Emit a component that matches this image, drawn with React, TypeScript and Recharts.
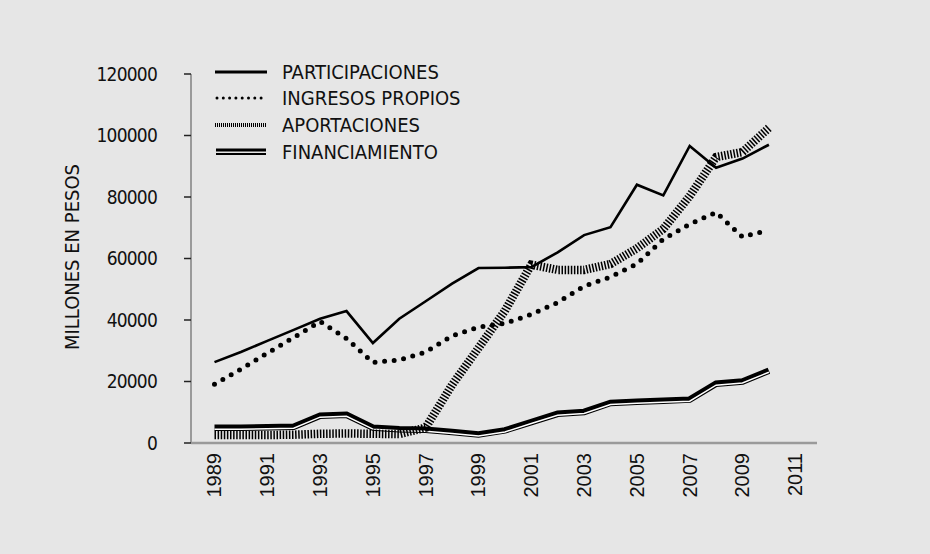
import React from "react"
import { LineChart, Line, XAxis, YAxis } from "recharts"

const years = [
  1989, 1990, 1991, 1992, 1993, 1994, 1995, 1996, 1997, 1998, 1999, 2000,
  2001, 2002, 2003, 2004, 2005, 2006, 2007, 2008, 2009, 2010,
]
const participaciones = [
  26300, 29600, 33200, 36800, 40400, 42900, 32500, 40400, 46100, 51800, 56900,
  57000, 57200, 62000, 67600, 70200, 84000, 80500, 96600, 89500, 92500, 97000,
]
const ingresosPropios = [
  19100, 24000, 29200, 34300, 39500, 34000, 26200, 27000, 29600, 34800, 37700,
  38900, 41800, 45700, 51000, 54000, 58200, 66300, 71200, 75000, 67000, 69300,
]
const aportaciones = [
  2600, 2600, 2600, 2700, 3000, 3100, 3000, 2900, 5000, 18900, 30900, 43000,
  58000, 56300, 56300, 58200, 63300, 69600, 80300, 93000, 94600, 102500,
]
const financiamiento = [
  5000, 5000, 5100, 5300, 8900, 9200, 5000, 4500, 4300, 3600, 2800, 4100, 6800,
  9500, 10100, 13000, 13400, 13700, 14100, 19300, 20000, 23500,
]
const yearTicks = [1989, 1991, 1993, 1995, 1997, 1999, 2001, 2003, 2005, 2007, 2009, 2011]
const valueTicks = [0, 20000, 40000, 60000, 80000, 100000, 120000]

const data = years.map((year, i) => ({
  year,
  participaciones: participaciones[i],
  ingresos: ingresosPropios[i],
  aportaciones: aportaciones[i],
  financiamiento: financiamiento[i],
}))

const narrow = "'Liberation Sans Narrow', 'Arial Narrow', 'DejaVu Sans Condensed', sans-serif"
const plain = "'Liberation Sans', Arial, sans-serif"

function YearTick(props: any) {
  const { x, y, payload } = props
  return (
    <text
      transform={`translate(${x + 7},${y}) rotate(-90)`}
      textAnchor="end"
      fontSize={20}
      fontFamily={plain}
      fill="#111"
    >
      {payload.value}
    </text>
  )
}

const legendItems = [
  { label: "PARTICIPACIONES", kind: "solid" },
  { label: "INGRESOS PROPIOS", kind: "dots" },
  { label: "APORTACIONES", kind: "hatch" },
  { label: "FINANCIAMIENTO", kind: "double" },
]

function Sample({ kind }: { kind: string }) {
  return (
    <svg width={52} height={12} style={{ display: "block" }}>
      {kind === "solid" && <line x1={0} y1={6} x2={52} y2={6} stroke="#000" strokeWidth={3} />}
      {kind === "dots" && (
        <line x1={2} y1={6} x2={52} y2={6} stroke="#000" strokeWidth={3}
          strokeDasharray="0 6.3" strokeLinecap="round" />
      )}
      {kind === "hatch" && (
        <line x1={0} y1={6} x2={52} y2={6} stroke="#000" strokeWidth={4} strokeDasharray="1 1" />
      )}
      {kind === "double" && (
        <g>
          <line x1={1} y1={4} x2={51} y2={4} stroke="#000" strokeWidth={3} />
          <line x1={1} y1={8} x2={51} y2={8} stroke="#000" strokeWidth={1.8} />
        </g>
      )}
    </svg>
  )
}

export default function App() {
  return (
    <div style={{ position: "relative", width: 930, height: 554, background: "#e6e6e6" }}>
      <style>{`body{margin:0}`}</style>
      <LineChart
        width={930}
        height={554}
        data={data}
        margin={{ top: 74, right: 113, left: 91, bottom: 51 }}
      >
        <XAxis
          dataKey="year"
          type="number"
          domain={[1988.11, 2011.822]}
          ticks={yearTicks}
          interval={0}
          height={60}
          tickLine={false}
          tickSize={0}
          tickMargin={10}
          axisLine={{ stroke: "#9a9a9a", strokeWidth: 2.5 }}
          tick={<YearTick />}
        />
        <YAxis
          domain={[0, 120000]}
          ticks={valueTicks}
          width={100}
          tickSize={7}
          tickMargin={27}
          tickLine={{ stroke: "#222", strokeWidth: 1.5 }}
          axisLine={{ stroke: "#9a9a9a", strokeWidth: 2 }}
          tick={{ fill: "#111", fontSize: 19, fontFamily: narrow, letterSpacing: -0.8 }}
        />
        <Line
          dataKey="financiamiento"
          type="linear"
          stroke="#000"
          strokeWidth={6.5}
          dot={false}
          activeDot={false}
          isAnimationActive={false}
        />
        <Line
          dataKey="financiamiento"
          type="linear"
          stroke="#ffffff"
          strokeWidth={1.5}
          transform="translate(0,1.5)"
          dot={false}
          activeDot={false}
          legendType="none"
          isAnimationActive={false}
        />
        <Line
          dataKey="aportaciones"
          type="linear"
          stroke="#000"
          strokeWidth={8.5}
          strokeDasharray="1.5 1.6"
          dot={false}
          activeDot={false}
          isAnimationActive={false}
        />
        <Line
          dataKey="participaciones"
          type="linear"
          stroke="#000"
          strokeWidth={2.6}
          dot={false}
          activeDot={false}
          isAnimationActive={false}
        />
        <Line
          dataKey="ingresos"
          type="linear"
          stroke="#000"
          strokeWidth={5}
          strokeDasharray="0 9.6"
          strokeLinecap="round"
          dot={false}
          activeDot={false}
          isAnimationActive={false}
        />
      </LineChart>

      <div
        style={{
          position: "absolute",
          left: 72,
          top: 257,
          transform: "translate(-50%, -50%) rotate(-90deg)",
          whiteSpace: "nowrap",
          fontFamily: narrow,
          fontSize: 20,
          color: "#111",
        }}
      >
        MILLONES EN PESOS
      </div>

      {legendItems.map((item, i) => (
        <div
          key={item.label}
          style={{
            position: "absolute",
            left: 215,
            top: [72, 98, 125, 152][i] - 13,
            height: 26,
            display: "flex",
            alignItems: "center",
            fontFamily: narrow,
            fontSize: 20,
            color: "#111",
            whiteSpace: "nowrap",
          }}
        >
          <Sample kind={item.kind} />
          <span style={{ marginLeft: 15 }}>{item.label}</span>
        </div>
      ))}
    </div>
  )
}
